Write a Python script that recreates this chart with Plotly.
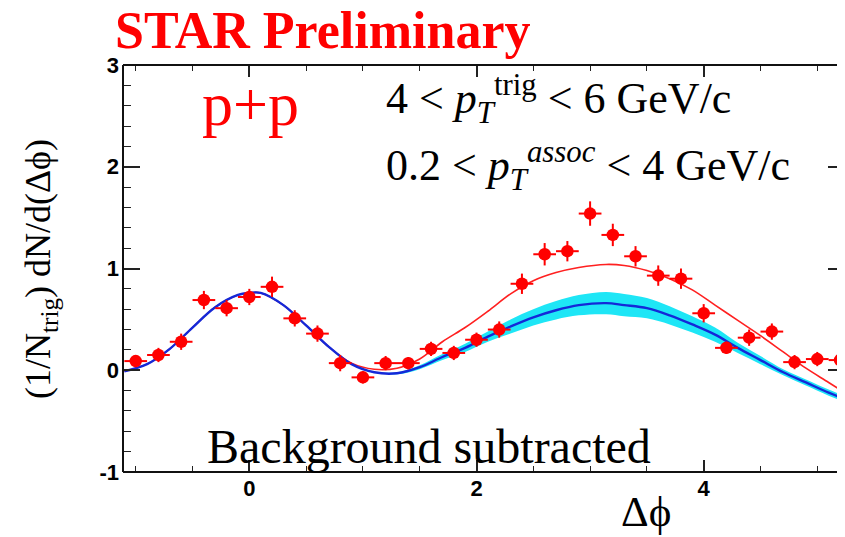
import plotly.graph_objects as go

# ---- data points (background-subtracted p+p correlation) ----
dphi = [-1.0, -0.8, -0.6, -0.4, -0.2, 0.0, 0.2, 0.4, 0.6, 0.8, 1.0, 1.2, 1.4, 1.6, 1.8, 2.0,
        2.2, 2.4, 2.6, 2.8, 3.0, 3.2, 3.4, 3.6, 3.8, 4.0, 4.2, 4.4, 4.6, 4.8, 5.0, 5.2]
yield_pp = [0.09, 0.15, 0.28, 0.69, 0.61, 0.72, 0.82, 0.51, 0.36, 0.07, -0.07, 0.07, 0.07, 0.21, 0.17, 0.30,
            0.40, 0.85, 1.14, 1.17, 1.54, 1.33, 1.12, 0.93, 0.90, 0.56, 0.22, 0.32, 0.38, 0.08, 0.11, 0.10]
yield_err = [0.06, 0.07, 0.08, 0.09, 0.08, 0.08, 0.10, 0.08, 0.08, 0.08, 0.06, 0.07, 0.06, 0.07, 0.07, 0.07,
             0.08, 0.10, 0.11, 0.10, 0.12, 0.11, 0.10, 0.10, 0.10, 0.09, 0.06, 0.08, 0.08, 0.07, 0.07, 0.07]
bin_half = [0.1] * 32

# ---- fit curves ----
curve_x = [-1.1, -0.9, -0.7, -0.5, -0.3, -0.1, 0.0, 0.1, 0.3, 0.5, 0.7, 0.9, 1.1, 1.3, 1.5, 1.7, 1.9,
           2.1, 2.3, 2.5, 2.7, 2.9, 3.14, 3.3, 3.5, 3.7, 3.9, 4.1, 4.3, 4.5, 4.7, 4.9, 5.1, 5.24]
red_fit = [-0.01, 0.06, 0.21, 0.42, 0.62, 0.74, 0.76, 0.76, 0.64, 0.44, 0.23, 0.07, 0.01, 0.02, 0.11, 0.28, 0.42,
           0.58, 0.75, 0.88, 0.96, 1.01, 1.04, 1.03, 0.98, 0.90, 0.79, 0.64, 0.49, 0.34, 0.18, 0.02, -0.12, -0.22]
blue_fit = [-0.01, 0.06, 0.21, 0.42, 0.62, 0.74, 0.76, 0.76, 0.64, 0.44, 0.23, 0.06, -0.02, -0.03, 0.03, 0.13, 0.22,
            0.33, 0.43, 0.52, 0.59, 0.64, 0.66, 0.64, 0.61, 0.54, 0.45, 0.35, 0.22, 0.10, -0.02, -0.12, -0.22, -0.28]

band_x = [1.1, 1.3, 1.5, 1.7, 1.9, 2.1, 2.3, 2.5, 2.7, 2.9, 3.14, 3.3, 3.5, 3.7, 3.9, 4.1, 4.3, 4.5, 4.7, 4.9, 5.1, 5.24]
band_hi = [-0.02, -0.02, 0.05, 0.16, 0.26, 0.38, 0.50, 0.60, 0.68, 0.74, 0.77, 0.75, 0.71, 0.63, 0.53, 0.42, 0.27, 0.14, 0.01, -0.09, -0.19, -0.25]
band_lo = [-0.02, -0.04, 0.01, 0.10, 0.18, 0.28, 0.36, 0.44, 0.50, 0.54, 0.55, 0.53, 0.51, 0.45, 0.37, 0.28, 0.17, 0.06, -0.05, -0.15, -0.25, -0.31]

# ---- axis ticks ----
x_ticks = [0, 2, 4]
x_tick_labels = ["0", "2", "4"]
y_ticks = [-1, 0, 1, 2, 3]
y_tick_labels = ["-1", "0", "1", "2", "3"]

SERIF = "Liberation Serif, Times New Roman, DejaVu Serif, serif"
SANS = "Liberation Sans, Arial, sans-serif"

fig = go.Figure()

# cyan systematic band
fig.add_trace(go.Scatter(x=band_x, y=band_lo, mode="lines", line=dict(width=0, shape="spline"),
                         hoverinfo="skip", showlegend=False))
fig.add_trace(go.Scatter(x=band_x, y=band_hi, mode="lines", line=dict(width=0, shape="spline"),
                         fill="tonexty", fillcolor="#1ee6f6", hoverinfo="skip", showlegend=False))

fig.add_trace(go.Scatter(x=curve_x, y=red_fit, mode="lines",
                         line=dict(color="#ff2020", width=1.6, shape="spline"), showlegend=False))
fig.add_trace(go.Scatter(x=curve_x, y=blue_fit, mode="lines",
                         line=dict(color="#1428d8", width=2.4, shape="spline"), showlegend=False))

fig.add_trace(go.Scatter(
    x=dphi, y=yield_pp, mode="markers",
    marker=dict(color="#ff0000", size=12.5, line=dict(width=0)),
    error_y=dict(type="data", array=yield_err, color="#ff0000", thickness=2, width=0),
    error_x=dict(type="data", array=bin_half, color="#ff0000", thickness=2, width=0),
    showlegend=False, cliponaxis=True))

# the page puts the figure 8 px in from the top-left corner
OFF = 8
W, H = 845 - OFF, 537 - OFF
L, R, T, B = 123 - OFF, 0, 65 - OFF, 537 - OFF - (472 - OFF)
pw, ph = W - L - R, H - T - B


def px(page_x):
    return (page_x - OFF - L) / pw


def py(page_y):
    return (H - B - (page_y - OFF)) / ph


fig.update_layout(
    width=W, height=H,
    margin=dict(l=L, r=R, t=T, b=B, pad=0),
    paper_bgcolor="white", plot_bgcolor="white",
    xaxis=dict(range=[-1.112, 5.244], tickvals=x_ticks, ticktext=x_tick_labels,
               ticks="inside", ticklen=12, tickwidth=1.5, tickcolor="#222",
               minor=dict(dtick=0.5, tick0=0, ticks="inside", ticklen=6, tickwidth=1.2, tickcolor="#222"),
               showline=False, mirror="ticks", showgrid=False, zeroline=False,
               tickfont=dict(family=SANS, size=22, color="black", weight="bold"),
               ticklabelstandoff=1),
    yaxis=dict(range=[-1, 3], tickvals=y_ticks, ticktext=y_tick_labels,
               ticks="inside", ticklen=17, tickwidth=1.5, tickcolor="#222",
               minor=dict(dtick=0.2, tick0=0, ticks="inside", ticklen=8, tickwidth=1.2, tickcolor="#222"),
               showline=False, mirror="ticks", showgrid=False, zeroline=False,
               tickfont=dict(family=SANS, size=22, color="black", weight="bold"),
               ticklabelstandoff=3),
)

# frame (left, bottom, top)
for x0, y0, x1, y1 in [(0, 0, 0, 1), (0, 0, 1, 0), (0, 1, 1, 1)]:
    fig.add_shape(type="line", xref="paper", yref="paper", x0=x0, y0=y0, x1=x1, y1=y1,
                  line=dict(color="#111", width=2))

ann = [
    dict(text="<b>STAR Preliminary</b>", x=px(113), y=py(30), xanchor="left", yanchor="middle",
         font=dict(family=SERIF, size=52, color="#ff0000")),
    dict(text="p+p", x=px(200), y=py(104), xanchor="left", yanchor="middle",
         font=dict(family=SERIF, size=62, color="#ff0000")),
    dict(text="4 &lt; <i>p</i><sub><i>T</i></sub><sup>trig</sup> &lt; 6 GeV/c", x=px(384), y=py(99),
         xanchor="left", yanchor="middle", font=dict(family=SERIF, size=44, color="black")),
    dict(text="0.2 &lt; <i>p</i><sub><i>T</i></sub><sup><i>assoc</i></sup> &lt; 4 GeV/c", x=px(384), y=py(166),
         xanchor="left", yanchor="middle", font=dict(family=SERIF, size=44, color="black")),
    dict(text="Background subtracted", x=px(205), y=py(446), xanchor="left", yanchor="middle",
         font=dict(family=SERIF, size=48, color="black")),
    dict(text="Δϕ", x=px(646), y=py(512), xanchor="center", yanchor="middle",
         font=dict(family=SERIF, size=43, color="black")),
    dict(text="(1/N<sub>trig</sub>) dN/d(Δϕ)", x=px(40), y=py(269), xanchor="center", yanchor="middle",
         textangle=-90, font=dict(family=SERIF, size=36, color="black")),
]
for a in ann:
    fig.add_annotation(xref="paper", yref="paper", showarrow=False, **a)

fig.write_html("out.html")
